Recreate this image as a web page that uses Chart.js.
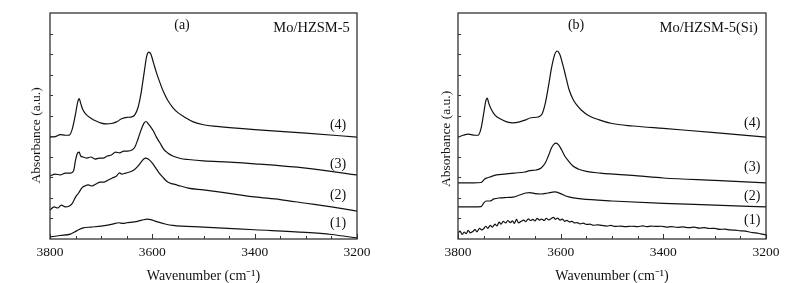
<!DOCTYPE html>
<html>
<head>
<meta charset="utf-8">
<script src="https://cdn.jsdelivr.net/npm/chart.js@4.4.0/dist/chart.umd.min.js"></script>
<style>
body { margin: 0; background: #fff; width: 787px; height: 283px; position: relative; overflow: hidden; }
canvas { position: absolute; top: 0; }
#chartA { left: 0; }
#chartB { left: 400px; }
</style>
</head>
<body>
<canvas id="chartA" width="400" height="283"></canvas>
<canvas id="chartB" width="387" height="283"></canvas>
<script>
// x ticks (cm-1) and curve names
const xTickValues = [3800, 3600, 3400, 3200];
const curveLabels = ['(1)', '(2)', '(3)', '(4)'];
const panelTitles = ['Mo/HZSM-5', 'Mo/HZSM-5(Si)'];

// panel (a) spectra : [wavenumber, absorbance]
const a1 = [[3800,0.10],[3780,0.17],[3760,0.24],[3752,0.34],[3745,0.44],[3735,0.54],[3720,0.58],[3700,0.63],[3680,0.71],[3665,0.79],[3658,0.76],[3650,0.79],[3635,0.83],[3620,0.92],[3610,0.97],[3600,0.92],[3590,0.83],[3575,0.73],[3560,0.66],[3500,0.58],[3400,0.45],[3300,0.32],[3250,0.22],[3200,0.05]];
const a2 = [[3800,1.41],[3792,1.56],[3785,1.51],[3778,1.65],[3770,1.56],[3762,1.61],[3756,1.75],[3750,2.04],[3744,2.24],[3738,2.48],[3732,2.58],[3725,2.63],[3718,2.58],[3710,2.68],[3702,2.77],[3694,2.77],[3686,2.87],[3678,2.97],[3670,3.07],[3664,3.22],[3660,3.16],[3652,3.21],[3644,3.26],[3636,3.36],[3628,3.55],[3620,3.80],[3614,3.94],[3608,3.89],[3602,3.75],[3596,3.55],[3588,3.26],[3580,3.02],[3570,2.77],[3560,2.68],[3545,2.58],[3530,2.48],[3500,2.39],[3450,2.22],[3400,2.05],[3350,1.92],[3300,1.74],[3250,1.56],[3200,1.36]];
const a3 = [[3800,3.07],[3790,3.16],[3780,3.12],[3770,3.21],[3760,3.21],[3754,3.31],[3750,3.85],[3746,4.19],[3743,4.23],[3740,4.04],[3735,3.99],[3728,3.94],[3720,3.99],[3712,3.89],[3704,3.94],[3696,3.94],[3688,4.04],[3680,4.09],[3672,4.23],[3664,4.19],[3656,4.28],[3648,4.28],[3640,4.33],[3634,4.48],[3628,4.87],[3622,5.31],[3616,5.65],[3612,5.72],[3608,5.60],[3603,5.45],[3598,5.26],[3592,4.96],[3585,4.67],[3578,4.38],[3570,4.19],[3560,4.04],[3545,3.92],[3530,3.87],[3500,3.80],[3450,3.74],[3400,3.66],[3300,3.45],[3200,3.12]];
const a4 = [[3800,4.96],[3790,4.98],[3780,5.08],[3770,5.05],[3762,5.06],[3756,5.40],[3750,6.10],[3746,6.65],[3743,6.83],[3740,6.60],[3736,6.30],[3730,6.08],[3720,5.88],[3710,5.74],[3700,5.64],[3690,5.60],[3680,5.62],[3670,5.70],[3660,5.85],[3650,5.92],[3640,5.94],[3634,6.05],[3628,6.40],[3622,7.10],[3616,8.10],[3611,8.90],[3607,9.10],[3603,9.00],[3598,8.60],[3592,8.10],[3585,7.60],[3578,7.15],[3570,6.75],[3560,6.40],[3550,6.15],[3535,5.90],[3520,5.70],[3500,5.56],[3474,5.48],[3400,5.32],[3300,5.15],[3200,4.96]];

// panel (b) spectra
const b1 = [[3800,0.28],[3796,0.38],[3792,0.22],[3788,0.34],[3784,0.26],[3780,0.42],[3776,0.30],[3771,0.36],[3767,0.46],[3763,0.35],[3758,0.52],[3754,0.44],[3750,0.50],[3746,0.62],[3742,0.52],[3737,0.66],[3733,0.58],[3728,0.72],[3724,0.64],[3720,0.82],[3716,0.72],[3712,0.86],[3707,0.78],[3703,0.90],[3698,0.80],[3694,0.88],[3690,0.76],[3686,0.96],[3682,0.78],[3677,0.86],[3672,0.92],[3668,0.84],[3663,0.98],[3659,0.90],[3654,0.96],[3650,0.88],[3646,1.00],[3641,0.92],[3637,0.97],[3632,0.90],[3628,1.01],[3623,0.93],[3619,0.99],[3614,1.05],[3610,0.96],[3606,1.02],[3601,0.92],[3597,0.97],[3592,0.86],[3588,0.91],[3583,0.83],[3578,0.86],[3573,0.78],[3568,0.80],[3562,0.74],[3556,0.77],[3550,0.71],[3543,0.72],[3536,0.67],[3528,0.69],[3520,0.66],[3510,0.63],[3502,0.66],[3494,0.61],[3484,0.63],[3474,0.60],[3462,0.62],[3450,0.60],[3440,0.64],[3432,0.60],[3424,0.63],[3414,0.61],[3404,0.62],[3394,0.58],[3384,0.60],[3372,0.57],[3362,0.59],[3350,0.55],[3340,0.58],[3330,0.53],[3320,0.55],[3310,0.51],[3300,0.52],[3290,0.47],[3280,0.48],[3270,0.44],[3260,0.43],[3250,0.40],[3240,0.38],[3230,0.33],[3220,0.30],[3210,0.25],[3200,0.20]];
const b2 = [[3800,1.56],[3770,1.56],[3755,1.58],[3750,1.75],[3745,1.85],[3738,1.85],[3730,1.95],[3718,2.00],[3705,2.02],[3693,2.04],[3680,2.14],[3668,2.24],[3660,2.26],[3650,2.21],[3638,2.19],[3625,2.24],[3612,2.29],[3600,2.21],[3590,2.09],[3575,2.00],[3560,1.95],[3500,1.85],[3400,1.73],[3300,1.65],[3200,1.56]];
const b3 = [[3800,2.73],[3770,2.73],[3755,2.75],[3748,2.92],[3744,2.97],[3738,3.02],[3725,3.12],[3710,3.16],[3690,3.21],[3670,3.26],[3660,3.33],[3648,3.36],[3638,3.46],[3630,3.70],[3624,4.04],[3618,4.43],[3613,4.62],[3609,4.67],[3604,4.58],[3598,4.33],[3592,4.04],[3585,3.80],[3576,3.55],[3566,3.41],[3550,3.29],[3523,3.21],[3450,3.07],[3400,2.97],[3300,2.85],[3200,2.73]];
const b4 = [[3800,4.96],[3790,5.05],[3780,5.10],[3770,5.06],[3761,5.05],[3755,5.40],[3750,6.10],[3746,6.70],[3743,6.86],[3740,6.60],[3735,6.30],[3728,6.03],[3718,5.85],[3705,5.70],[3693,5.65],[3680,5.70],[3668,5.80],[3658,5.90],[3644,5.94],[3636,6.10],[3630,6.60],[3624,7.40],[3618,8.30],[3612,8.95],[3607,9.15],[3602,9.00],[3596,8.50],[3590,7.90],[3584,7.30],[3576,6.80],[3568,6.50],[3560,6.28],[3545,6.00],[3525,5.80],[3500,5.62],[3459,5.50],[3400,5.38],[3300,5.18],[3200,4.96]];

const serif = "'Liberation Serif', 'Times New Roman', serif";
Chart.defaults.font.family = serif;

// frame, inner ticks and text labels
const framePlugin = {
    id: 'frame',
    afterDraw(chart, args, opts) {
        const ctx = chart.ctx;
        const a = chart.chartArea;
        const xs = chart.scales.x, ys = chart.scales.y;
        ctx.save();
        ctx.strokeStyle = '#333';
        ctx.lineWidth = 1.3;
        ctx.strokeRect(a.left, a.top, a.right - a.left, a.bottom - a.top);
        ctx.lineWidth = 1;
        ctx.beginPath();
        for (let w = 3200; w <= 3800; w += 50) {
            const px = Math.round(xs.getPixelForValue(w)) + 0.5;
            const len = (w % 200 === 0) ? 5 : 3;
            ctx.moveTo(px, a.bottom);
            ctx.lineTo(px, a.bottom - len);
        }
        for (let v = 1; v < 11; v++) {
            const py = Math.round(ys.getPixelForValue(v)) + 0.5;
            ctx.moveTo(a.left, py);
            ctx.lineTo(a.left + 3, py);
        }
        ctx.stroke();

        ctx.fillStyle = '#111';
        opts.notes.forEach(n => {
            ctx.font = n.size + 'px ' + serif;
            ctx.textAlign = n.align;
            ctx.textBaseline = 'middle';
            ctx.fillText(n.text, xs.getPixelForValue(n.x), ys.getPixelForValue(n.y));
        });

        // y axis title
        ctx.font = '13.5px ' + serif;
        ctx.textAlign = 'center';
        ctx.translate(a.left - opts.yTitleGap, ys.getPixelForValue(opts.yTitleAt));
        ctx.rotate(-Math.PI / 2);
        ctx.fillText('Absorbance (a.u.)', 0, 0);
        ctx.restore();
    }
};

function makePanel(id, series, notes, pad, yTitleGap, yTitleAt) {
    new Chart(document.getElementById(id), {
        type: 'line',
        data: {
            datasets: series.map((s, i) => ({
                label: curveLabels[i],
                data: s.map(p => ({x: p[0], y: p[1]})),
                borderColor: '#111',
                borderWidth: 1.2,
                pointRadius: 0,
                cubicInterpolationMode: 'monotone',
                fill: false
            }))
        },
        options: {
            responsive: false,
            animation: false,
            layout: { padding: pad },
            plugins: {
                legend: { display: false },
                tooltip: { enabled: false },
                frame: { notes: notes, yTitleGap: yTitleGap, yTitleAt: yTitleAt }
            },
            scales: {
                x: {
                    type: 'linear',
                    min: 3200,
                    max: 3800,
                    reverse: true,
                    afterBuildTicks: s => { s.ticks = xTickValues.map(v => ({value: v})); },
                    afterFit: s => { s.height = 44; },
                    ticks: {
                        color: '#111',
                        font: { size: 13.5 },
                        padding: 5,
                        maxRotation: 0,
                        callback: v => String(v)
                    },
                    grid: { display: false, drawTicks: false },
                    border: { display: false },
                    title: {
                        display: true,
                        text: 'Wavenumber (cm\u207B\u00B9)',
                        color: '#111',
                        font: { size: 14 },
                        padding: { top: 0, bottom: -2 }
                    }
                },
                y: {
                    min: 0,
                    max: 11,
                    afterFit: s => { s.width = 0; },
                    ticks: { display: false },
                    grid: { display: false, drawTicks: false },
                    border: { display: false }
                }
            }
        },
        plugins: [framePlugin]
    });
}

makePanel('chartA', [a1, a2, a3, a4], [
    {text: '(a)', x: 3542, y: 10.42, align: 'center', size: 14},
    {text: panelTitles[0], x: 3214, y: 10.27, align: 'right', size: 14.5},
    {text: curveLabels[3], x: 3237, y: 5.55, align: 'center', size: 14},
    {text: curveLabels[2], x: 3237, y: 3.65, align: 'center', size: 14},
    {text: curveLabels[1], x: 3237, y: 2.14, align: 'center', size: 14},
    {text: curveLabels[0], x: 3237, y: 0.78, align: 'center', size: 14}
], {left: 50, right: 43, top: 13, bottom: 0}, 13.3, 5.04);

makePanel('chartB', [b1, b2, b3, b4], [
    {text: '(b)', x: 3570, y: 10.42, align: 'center', size: 14},
    {text: panelTitles[1], x: 3216, y: 10.27, align: 'right', size: 14.5},
    {text: curveLabels[3], x: 3227, y: 5.65, align: 'center', size: 14},
    {text: curveLabels[2], x: 3227, y: 3.50, align: 'center', size: 14},
    {text: curveLabels[1], x: 3227, y: 2.09, align: 'center', size: 14},
    {text: curveLabels[0], x: 3227, y: 0.92, align: 'center', size: 14}
], {left: 58, right: 21, top: 13, bottom: 0}, 11.3, 4.87);
</script>
</body>
</html>
